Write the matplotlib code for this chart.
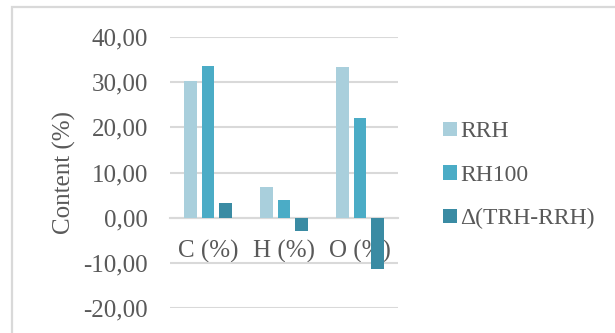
import matplotlib
matplotlib.use("Agg")
import matplotlib.pyplot as plt
from matplotlib.patches import Rectangle
import numpy as np

categories = ["C (%)", "H (%)", "O (%)"]
series_names = ["RRH", "RH100", "Δ(TRH-RRH)"]
rrh = [30.2, 6.7, 33.3]
rh100 = [33.6, 3.85, 22.0]
delta = [3.2, -2.95, -11.4]
y_ticks = [-20, -10, 0, 10, 20, 30, 40]
y_tick_labels = ["-20,00", "-10,00", "0,00", "10,00", "20,00", "30,00", "40,00"]

colors = ["#A9CFDC", "#4BACC6", "#3A8BA3"]
text_color = "#595959"
grid_color = "#D9D9D9"
font = ["Liberation Serif", "DejaVu Serif"]
fs = 18
legend_fs = 17

plt.rcParams["font.family"] = font

fig = plt.figure(figsize=(6.15, 3.33), dpi=100)
fig.patch.set_facecolor("white")

# chart frame
fig.patches.append(Rectangle((12 / 615, -0.1), 1.2, 1 - 7 / 333 + 0.1,
                             transform=fig.transFigure, fill=False,
                             edgecolor=grid_color, linewidth=1.6, zorder=0))

ax = fig.add_axes([170 / 615, 1 - 307.7 / 333, (398 - 170) / 615, (307.7 - 37.3) / 333])
ax.set_facecolor("none")

x = np.arange(len(categories))
bar_w = 0.171
step = 0.224
for i, (vals, name) in enumerate(zip([rrh, rh100, delta], series_names)):
    ax.bar(x + (i - 1) * step, vals, width=bar_w, color=colors[i], label=name, zorder=3)

ax.set_xlim(-0.5, len(categories) - 0.5)
ax.set_ylim(-20, 40)
ax.set_yticks(y_ticks)
ax.set_yticklabels(y_tick_labels, color=text_color, fontsize=fs)
ax.tick_params(axis="y", length=0, pad=16)
ax.yaxis.grid(True, color=grid_color, linewidth=1.5, zorder=0)
ax.set_axisbelow(True)

for s in ["top", "right", "left"]:
    ax.spines[s].set_visible(False)
ax.spines["bottom"].set_position(("data", 0))
ax.spines["bottom"].set_color(grid_color)
ax.spines["bottom"].set_linewidth(1.5)
ax.spines["bottom"].set_zorder(2)

ax.set_xticks(x)
ax.set_xticklabels(categories, color=text_color, fontsize=fs)
ax.tick_params(axis="x", length=0, pad=16)
for lbl in ax.get_xticklabels():
    lbl.set_zorder(4)

ax.set_ylabel("Content (%)", color=text_color, fontsize=fs, labelpad=5)

leg = ax.legend(loc="center left", bbox_to_anchor=(1.105, 0.489), frameon=False,
                fontsize=legend_fs, handlelength=0.58, handleheight=0.58,
                handletextpad=0.15, labelspacing=0.95, labelcolor=text_color)

fig.savefig("out.png", dpi=100, facecolor="white")
